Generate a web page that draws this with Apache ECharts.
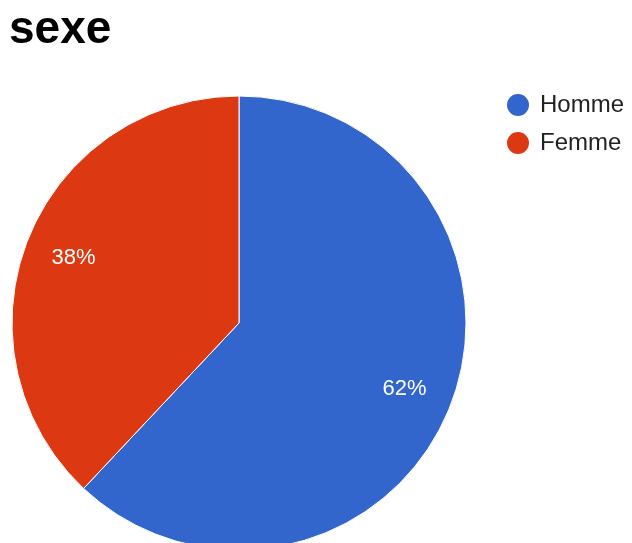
<!DOCTYPE html>
<html>
<head>
<meta charset="utf-8">
<script src="https://cdn.jsdelivr.net/npm/echarts@6/dist/echarts.min.js"></script>
<style>
  html, body { margin: 0; padding: 0; background: #fff; }
  #main { width: 632px; height: 543px; }
</style>
</head>
<body>
<div id="main"></div>
<script>
var categories = ['Homme', 'Femme'];
var values = [62, 38];
var colors = ['#3366cc', '#dc3912'];

var pieData = categories.map(function (name, i) {
  return { name: name, value: values[i], itemStyle: { color: colors[i] } };
});

var myChart = echarts.init(document.getElementById('main'));
myChart.setOption({
  animation: false,
  title: {
    text: 'sexe',
    left: 9,
    top: 7,
    padding: 0,
    textStyle: { fontFamily: 'Liberation Sans', fontSize: 46, fontWeight: 'bold', color: '#000' }
  },
  legend: {
    orient: 'vertical',
    left: 505,
    top: 92,
    padding: 0,
    icon: 'circle',
    itemWidth: 34,
    itemHeight: 24,
    itemGap: 12,
    textStyle: { fontFamily: 'Liberation Sans', fontSize: 24, color: '#222' },
    data: categories
  },
  series: [
    {
      type: 'pie',
      center: [239, 323],
      radius: [0, 227],
      startAngle: 90,
      clockwise: true,
      label: { show: false },
      labelLine: { show: false },
      itemStyle: { borderColor: '#fff', borderWidth: 1 },
      emphasis: { disabled: true },
      data: pieData
    },
    {
      // transparent ring used only to place the percentage labels
      type: 'pie',
      center: [239, 323],
      radius: [123, 227],
      startAngle: 90,
      clockwise: true,
      silent: true,
      legendHoverLink: false,
      itemStyle: { color: 'transparent' },
      label: {
        show: true,
        position: 'inside',
        formatter: function (p) { return Math.round(p.percent) + '%'; },
        color: '#fff',
        fontFamily: 'Liberation Sans',
        fontSize: 22
      },
      labelLine: { show: false },
      emphasis: { disabled: true },
      data: categories.map(function (name, i) { return { name: name + ' ', value: values[i] }; })
    }
  ]
});
</script>
</body>
</html>
